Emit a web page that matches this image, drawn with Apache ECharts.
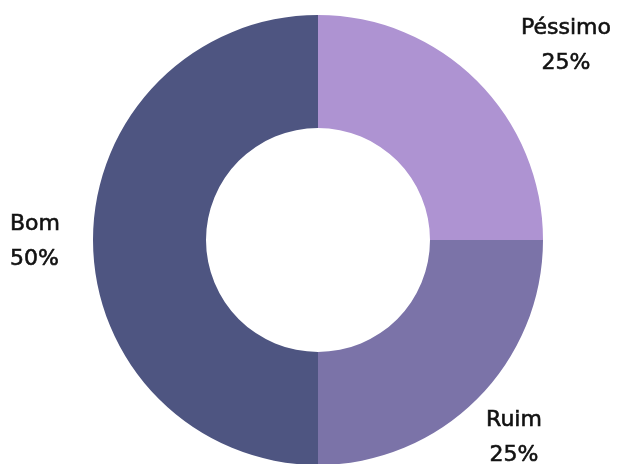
<!DOCTYPE html>
<html><head><meta charset="utf-8">
<script src="https://cdn.jsdelivr.net/npm/echarts@6/dist/echarts.min.js"></script>
<style>html,body{margin:0;padding:0;background:#fff}#c{width:620px;height:464px}</style>
</head><body><div id="c"></div>
<script>
const categories = ['Péssimo', 'Ruim', 'Bom'];
const values = [25, 25, 50];
const colors = ['#AE93D2', '#7B73A8', '#4E5581'];

const cx = 318, cy = 240;
// label anchor placement relative to pie center (style, not data)
const labelPlace = [
  {dx: 248, dy: -194, align: 'center'},
  {dx: 196, dy: 198, align: 'center'},
  {dx: -308, dy: 2, align: 'left'}
];

const chart = echarts.init(document.getElementById('c'), null, {renderer: 'canvas'});
chart.setOption({
  animation: false,
  series: [{
    type: 'pie',
    center: [cx, cy],
    radius: [112, 225],
    startAngle: 90,
    clockwise: true,
    avoidLabelOverlap: false,
    data: categories.map((c, i) => ({name: c, value: values[i], itemStyle: {color: colors[i]}})),
    label: {
      show: true,
      position: 'outside',
      formatter: p => p.name + '\n' + Math.round(p.percent) + '%',
      fontFamily: 'DejaVu Sans',
      fontWeight: 'normal',
      fontSize: 22,
      lineHeight: 35,
      color: '#111',
      textBorderColor: '#111',
      textBorderWidth: 0.6
    },
    labelLine: {show: false},
    labelLayout: p => {
      const s = labelPlace[p.dataIndex];
      return {x: cx + s.dx, y: cy + s.dy, align: s.align, verticalAlign: 'middle'};
    }
  }]
});
</script></body></html>
